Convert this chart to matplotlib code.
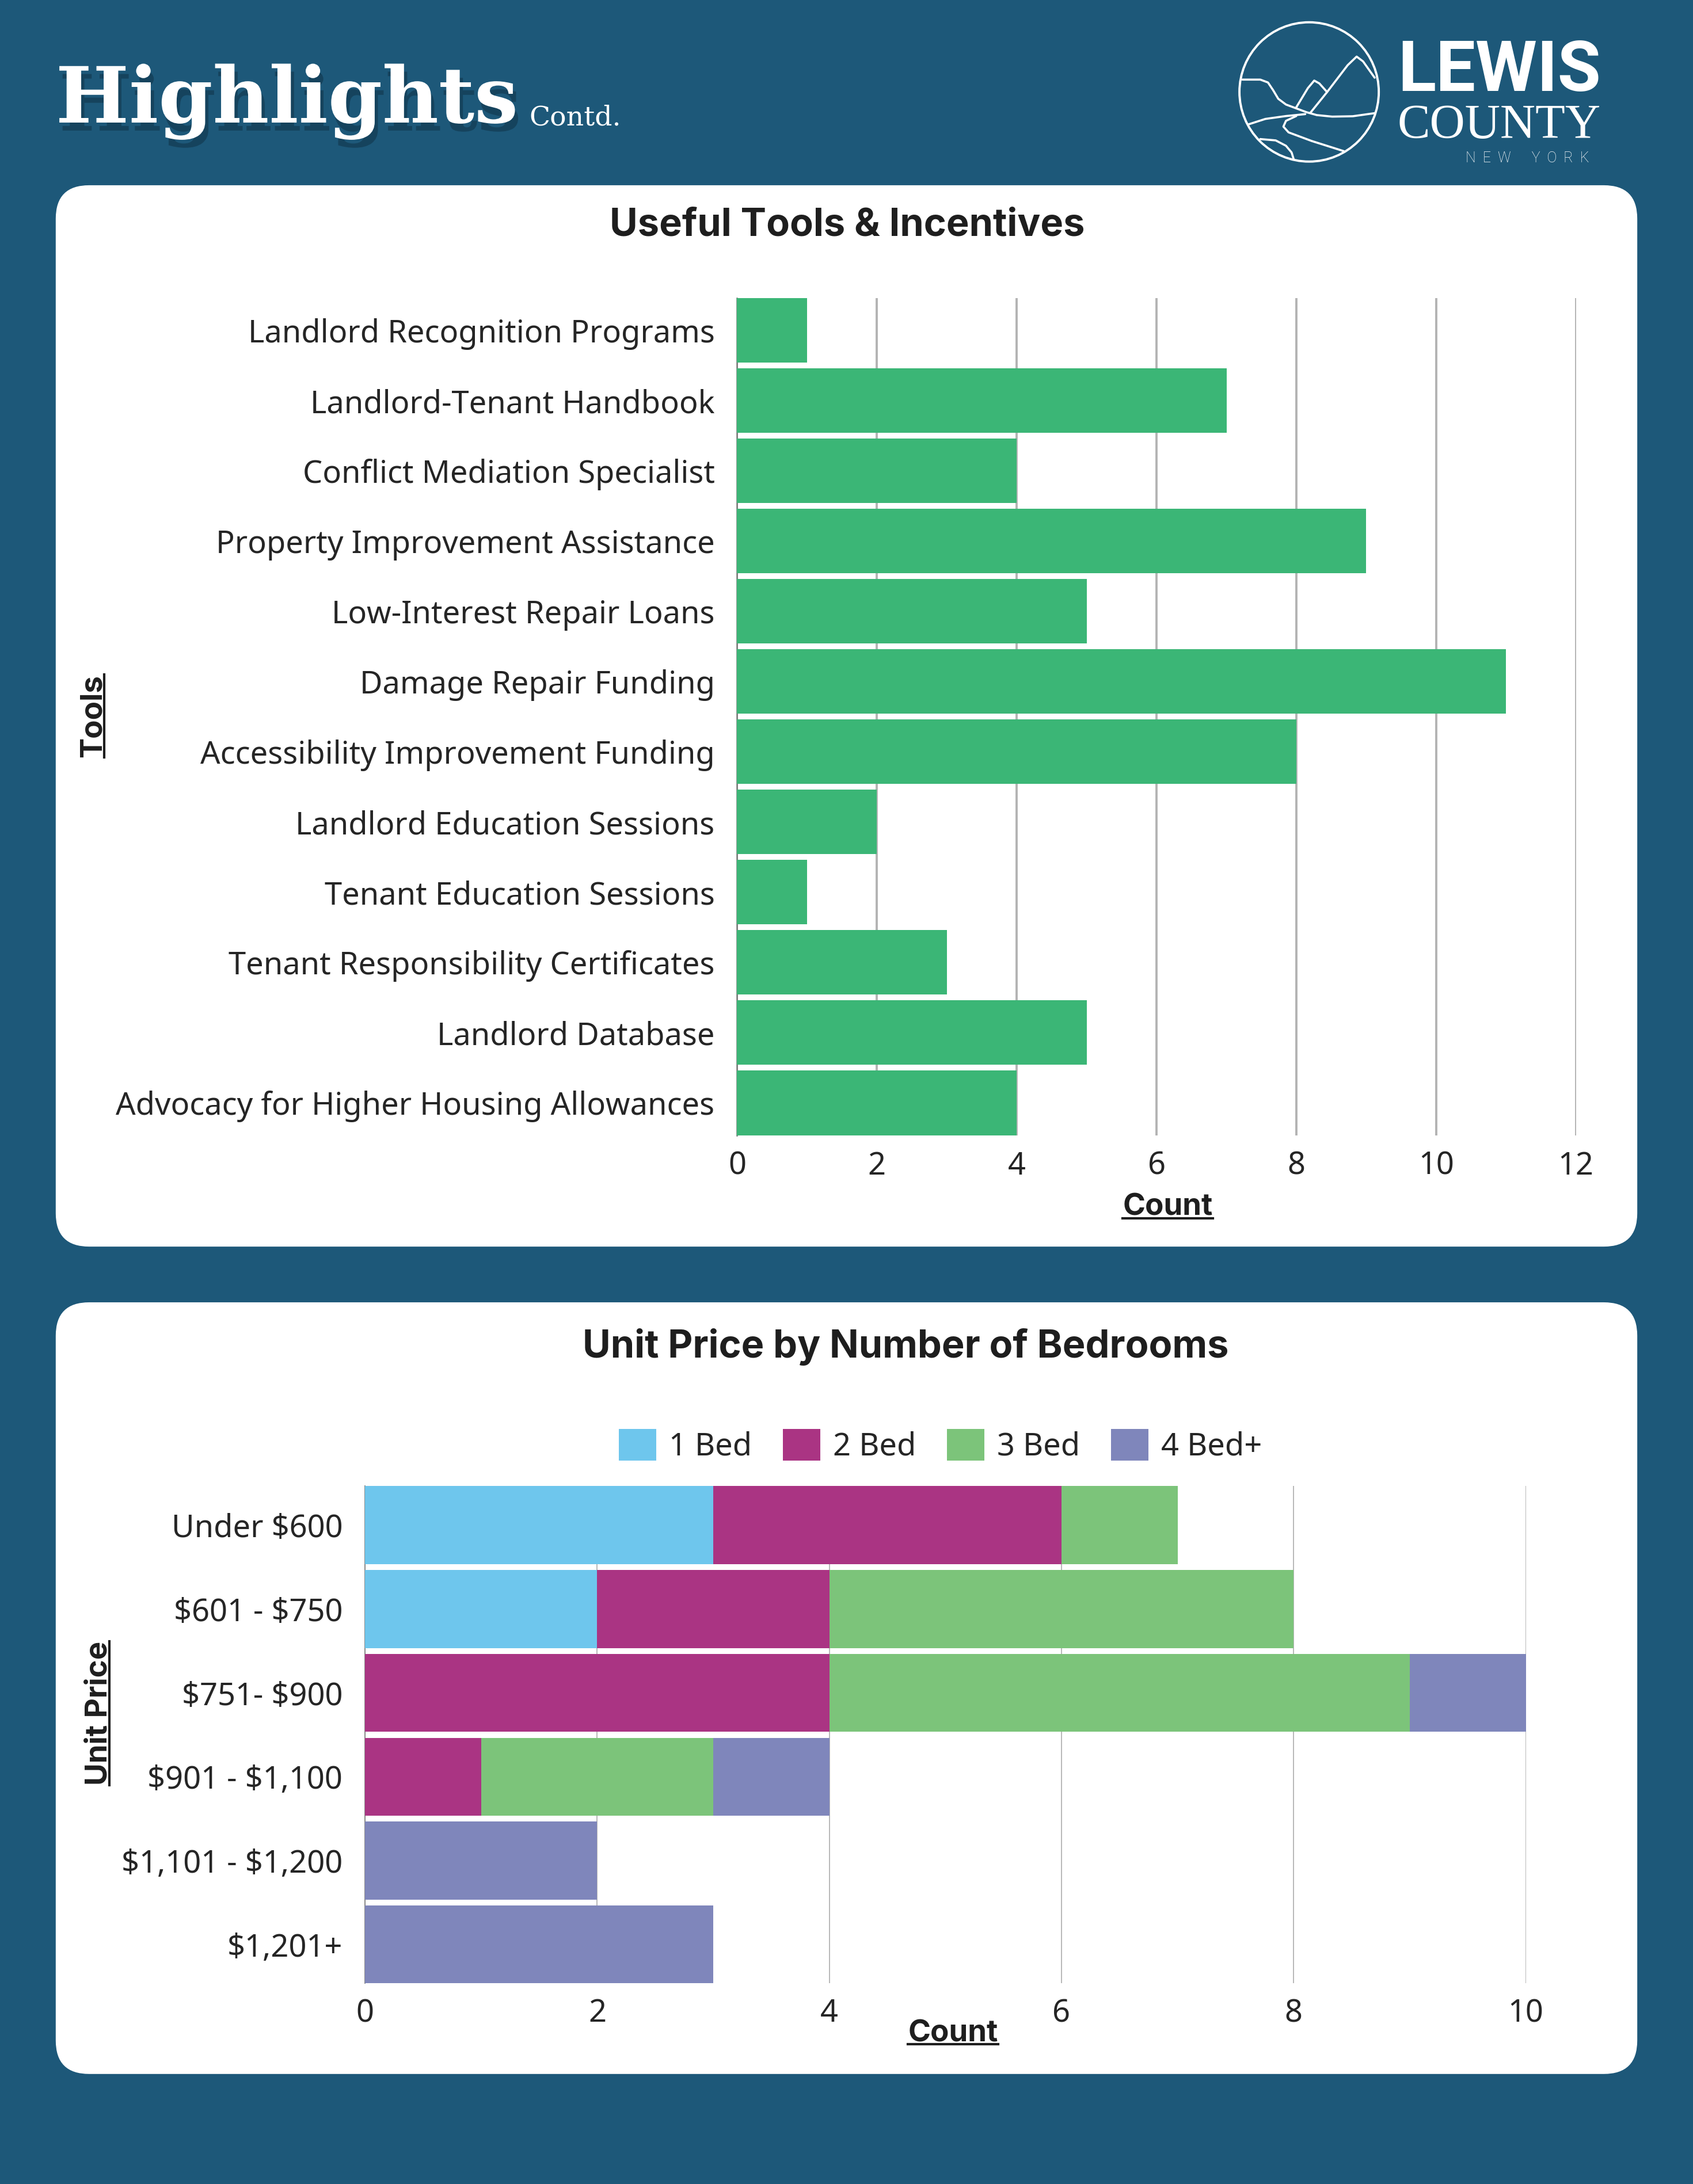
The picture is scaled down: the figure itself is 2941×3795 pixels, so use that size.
import matplotlib
matplotlib.use("Agg")
import matplotlib.pyplot as plt
import matplotlib.patheffects as pe
from matplotlib.patches import FancyBboxPatch, Circle
from matplotlib.lines import Line2D
from matplotlib.transforms import IdentityTransform
import numpy as np

# dollar signs in the labels are plain text, not mathtext
plt.rcParams["text.parse_math"] = False

# ---- data ----
tools = [
    "Landlord Recognition Programs",
    "Landlord-Tenant Handbook",
    "Conflict Mediation Specialist",
    "Property Improvement Assistance",
    "Low-Interest Repair Loans",
    "Damage Repair Funding",
    "Accessibility Improvement Funding",
    "Landlord Education Sessions",
    "Tenant Education Sessions",
    "Tenant Responsibility Certificates",
    "Landlord Database",
    "Advocacy for Higher Housing Allowances",
]
tool_counts = [1, 7, 4, 9, 5, 11, 8, 2, 1, 3, 5, 4]
tool_ticks = [0, 2, 4, 6, 8, 10, 12]

price_bands = ["Under $600", "$601 - $750", "$751- $900", "$901 - $1,100",
               "$1,101 - $1,200", "$1,201+"]
bed_labels = ["1 Bed", "2 Bed", "3 Bed", "4 Bed+"]
bed_1 = [3, 2, 0, 0, 0, 0]
bed_2 = [3, 2, 4, 1, 0, 0]
bed_3 = [1, 4, 5, 2, 0, 0]
bed_4 = [0, 0, 1, 1, 2, 3]
price_ticks = [0, 2, 4, 6, 8, 10]

# ---- styling ----
BG = "#1D5879"
GREEN = "#3BB676"
BED_COLORS = ["#6EC6ED", "#AA3483", "#7CC47A", "#7F86BB"]
TXT = "#252525"
LABEL_FONT = "Noto Sans"
HEAD_FONT = "Inter"
LABEL_SIZE = 19.5

# layout units = reference pixels at 1215 x 1568
W, H = 1215, 1568

fig = plt.figure(figsize=(14.705, 18.975), dpi=200)
fig.patch.set_facecolor(BG)

bg = fig.add_axes([0, 0, 1, 1], zorder=0)
bg.set_xlim(0, W)
bg.set_ylim(H, 0)
bg.axis("off")


def frect(l, t, r, b):
    return [l / W, 1 - b / H, (r - l) / W, (b - t) / H]


# white cards
for top, bot in [(133, 895), (935, 1489)]:
    bg.add_patch(FancyBboxPatch((40, top), 1135, bot - top,
                                boxstyle="round,pad=0,rounding_size=24",
                                fc="white", ec="none"))

# header
bg.text(40, 88, "Highlights", family="DejaVu Serif", fontweight="bold",
        fontsize=48.5, color="white", va="baseline",
        path_effects=[pe.withSimplePatchShadow(offset=(2, -5),
                                               shadow_rgbFace="#0b2535",
                                               alpha=0.4)])
bg.text(380, 90, "Contd.", family="DejaVu Serif", fontsize=17,
        color="white", va="baseline")

# logo
ring = Circle((939.5, 66), 50, fill=False, ec="white", lw=1.4)
bg.add_patch(ring)


def logo_pts(pts):
    return ([(2100 + x / 2.24) / 2.4206 for x, y in pts],
            [(20 + y / 3) / 2.4206 for x, y in pts])


logo_paths = [
    [(130, 355), (200, 355), (230, 370), (250, 410), (270, 455), (300, 485),
     (340, 505), (380, 525), (420, 540), (480, 548), (560, 546), (645, 530)],
    [(340, 500), (385, 400), (410, 360), (430, 375), (460, 420)],
    [(395, 528), (460, 420), (540, 280), (575, 235), (600, 260), (645, 345)],
    [(155, 588), (220, 560), (300, 545), (375, 535)],
    [(340, 545), (300, 570), (290, 600), (310, 630), (400, 675), (525, 728)],
    [(200, 665), (260, 672), (300, 700), (322, 735), (330, 770)],
]
for p in logo_paths:
    xs, ys = logo_pts(p)
    ln, = bg.plot(xs, ys, color="white", lw=1.3, solid_capstyle="round",
                  solid_joinstyle="round")
    ln.set_clip_path(ring)

bg.text(1003, 65.4, "LEWIS", family="Roboto", fontweight="bold",
        fontsize=44, color="white", va="baseline")
bg.text(1003, 99.2, "COUNTY", family="Liberation Serif", fontsize=30.5,
        color="white", va="baseline")
bg.text(1096, 116.4, "N  E  W      Y  O  R  K", family="Roboto",
        fontweight="light", fontsize=9, color="white", va="baseline",
        ha="center")

# ---- chart 1: useful tools ----
ax1 = fig.add_axes(frect(529, 214, 1131, 815), zorder=2)
ax1.patch.set_alpha(0)
y1 = np.arange(len(tools))
ax1.barh(y1, tool_counts, height=0.92, color=GREEN, zorder=3)
ax1.set_xlim(0, 12)
ax1.set_ylim(len(tools) - 0.54, -0.46)
ax1.set_xticks(tool_ticks)
ax1.set_yticks(y1)
ax1.set_yticklabels(tools)
ax1.xaxis.grid(True, color="#b3b3b3", lw=1.4)
ax1.set_axisbelow(True)
for s in ["top", "right", "bottom"]:
    ax1.spines[s].set_visible(False)
ax1.spines["left"].set_color("#777777")
ax1.spines["left"].set_linewidth(0.9)
ax1.tick_params(axis="x", length=0, pad=9.5, labelsize=LABEL_SIZE,
                labelcolor=TXT)
ax1.tick_params(axis="y", length=0, pad=14, labelsize=LABEL_SIZE,
                labelcolor=TXT)
for lab in ax1.get_xticklabels() + ax1.get_yticklabels():
    lab.set_family(LABEL_FONT)

bg.text(608, 162, "Useful Tools & Incentives", family=HEAD_FONT,
        fontweight="bold", fontsize=24, color="#1e1e1e", ha="center",
        va="center")
count1 = bg.text(838, 867, "Count", family=HEAD_FONT, fontweight="bold",
                 fontsize=19, color="#1e1e1e", ha="center", va="center")
tools_lab = bg.text(67, 514, "Tools", family=HEAD_FONT, fontweight="bold",
                    fontsize=19, color="#1e1e1e", ha="center", va="center",
                    rotation=90)

# ---- chart 2: unit price by bedrooms ----
ax2 = fig.add_axes(frect(262, 1067, 1095, 1424), zorder=2)
ax2.patch.set_alpha(0)
y2 = np.arange(len(price_bands))
left = np.zeros(len(price_bands))
handles = []
for vals, lab, col in zip([bed_1, bed_2, bed_3, bed_4], bed_labels, BED_COLORS):
    bars = ax2.barh(y2, vals, left=left, height=0.93, color=col, label=lab,
                    zorder=3)
    handles.append(bars)
    left = left + np.array(vals)
ax2.set_xlim(0, 10)
ax2.set_ylim(len(price_bands) - 0.535, -0.465)
ax2.set_xticks(price_ticks)
ax2.set_yticks(y2)
ax2.set_yticklabels(price_bands)
ax2.xaxis.grid(True, color="#b8b8b8", lw=0.7)
ax2.set_axisbelow(True)
for s in ["top", "right", "bottom"]:
    ax2.spines[s].set_visible(False)
ax2.spines["left"].set_color("#888888")
ax2.spines["left"].set_linewidth(0.7)
ax2.tick_params(axis="x", length=0, pad=9, labelsize=LABEL_SIZE,
                labelcolor=TXT)
ax2.tick_params(axis="y", length=0, pad=14, labelsize=LABEL_SIZE,
                labelcolor=TXT)
for lab in ax2.get_xticklabels() + ax2.get_yticklabels():
    lab.set_family(LABEL_FONT)

leg = fig.legend(handles, bed_labels, loc="center",
                 bbox_to_anchor=(675 / W, 1 - 1038 / H), ncol=4,
                 frameon=False, handlelength=1.2, handleheight=1.2,
                 handletextpad=0.4, columnspacing=1.0,
                 prop={"family": LABEL_FONT, "size": LABEL_SIZE})
for t in leg.get_texts():
    t.set_color(TXT)

bg.text(650, 967, "Unit Price by Number of Bedrooms", family=HEAD_FONT,
        fontweight="bold", fontsize=24, color="#1e1e1e", ha="center",
        va="center")
count2 = bg.text(684, 1460, "Count", family=HEAD_FONT, fontweight="bold",
                 fontsize=19, color="#1e1e1e", ha="center", va="center")
price_lab = bg.text(71, 1230, "Unit Price", family=HEAD_FONT,
                    fontweight="bold", fontsize=19, color="#1e1e1e",
                    ha="center", va="center", rotation=90)

# underline the axis titles
fig.canvas.draw()
rend = fig.canvas.get_renderer()
for t in [count1, count2]:
    bb = t.get_window_extent(rend)
    yy = bb.y0 + 0.12 * bb.height
    fig.add_artist(Line2D([bb.x0, bb.x1], [yy, yy], color="#1e1e1e", lw=1.5,
                          transform=IdentityTransform()))
for t in [tools_lab, price_lab]:
    bb = t.get_window_extent(rend)
    xx = bb.x1 - 0.12 * bb.width
    fig.add_artist(Line2D([xx, xx], [bb.y0, bb.y1], color="#1e1e1e", lw=1.5,
                          transform=IdentityTransform()))

fig.savefig("out.png", dpi=200, facecolor=BG)
